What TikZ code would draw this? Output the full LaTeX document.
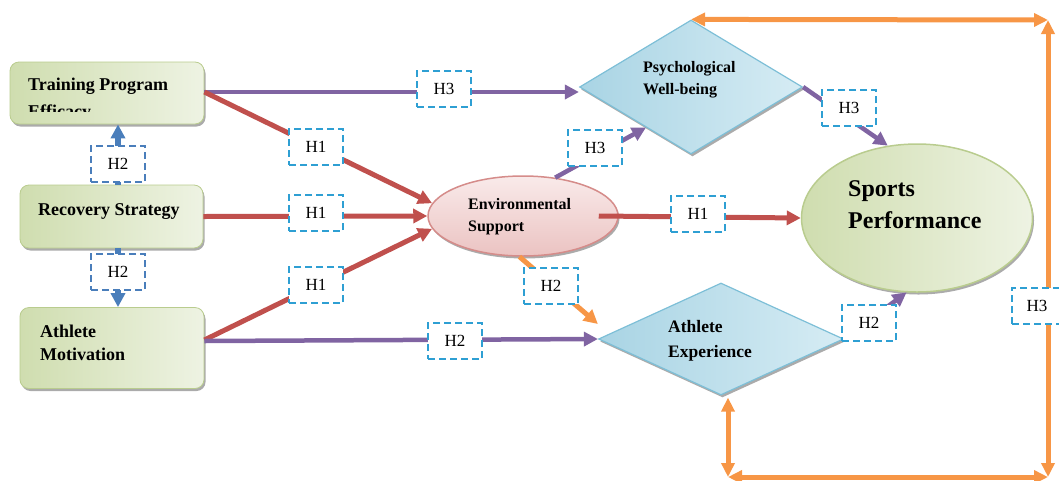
\documentclass[tikz,border=0pt]{standalone}
\usepackage{fontspec}
\setmainfont{Liberation Serif}
\usetikzlibrary{arrows.meta,shapes.geometric,shadows}
\definecolor{cRed}{HTML}{C0504D}
\definecolor{cPurple}{HTML}{8064A2}
\definecolor{cOrange}{HTML}{F79646}
\definecolor{cBlue}{HTML}{4A7EBB}
\definecolor{cCyan}{HTML}{2E9FD3}
\definecolor{gA}{HTML}{CFDDAF}
\definecolor{gB}{HTML}{EEF3E3}
\definecolor{gLine}{HTML}{B9CC8E}
\definecolor{pA}{HTML}{EBC3C2}
\definecolor{pB}{HTML}{F9EAEA}
\definecolor{pLine}{HTML}{D58C8A}
\definecolor{bA}{HTML}{A9D4E4}
\definecolor{bB}{HTML}{D6ECF4}
\definecolor{bLine}{HTML}{7DBFD7}
\tikzset{
  shad/.style={drop shadow={shadow xshift=1.5pt,shadow yshift=-2.5pt,fill=black!55,opacity=.6}},
  greenbox/.style={rectangle, rounded corners=9pt, draw=gLine, line width=.8pt,
    left color=gA, right color=gB, shad},
  envshape/.style={ellipse, draw=pLine, line width=1.5pt, top color=pB, bottom color=pA, shad},
  dia/.style={diamond, draw=bLine, line width=1.2pt, left color=bA, right color=bB, shad},
  sportshape/.style={ellipse, draw=gLine, line width=1.5pt, left color=gA, right color=gB, shad},
  lbl/.style={font=\bfseries\fontsize{18}{27}\selectfont, align=left, inner sep=0pt},
  slbl/.style={font=\bfseries\fontsize{16}{22}\selectfont, align=left, inner sep=0pt},
  hbox/.style={draw=cCyan, fill=white, line width=1.8pt, dash pattern=on 7pt off 4pt,
    minimum width=54pt, minimum height=36pt, inner sep=0pt, font=\fontsize{17}{20}\selectfont},
  hboxblue/.style={hbox, draw=cBlue},
  tip/.style={-{Triangle[length=14pt,width=14pt]}},
  dtip/.style={{Triangle[length=14pt,width=13pt]}-{Triangle[length=14pt,width=13pt]}},
  redc/.style={draw=cRed, line width=5pt, tip},
  purc/.style={draw=cPurple, line width=4.5pt, tip},
  orac/.style={draw=cOrange, line width=5pt},
  bluec/.style={draw=cBlue, line width=6pt, tip},
}
\begin{document}
\begin{tikzpicture}[x=1pt,y=-1pt]
\useasboundingbox (0,0) rectangle (1059,480);
% shapes
\node[greenbox, minimum width=194pt, minimum height=62pt] (Train) at (107,93) {};
\node[greenbox, minimum width=183pt, minimum height=63pt] (Rec) at (111.5,216.5) {};
\node[greenbox, minimum width=184pt, minimum height=81pt] (Mot) at (112,348) {};
\node[envshape, minimum width=190pt, minimum height=80pt] (Env) at (523,216) {};
\node[dia, minimum width=223pt, minimum height=134pt] (Psych) at (691,87) {};
\node[dia, minimum width=245pt, minimum height=112pt] (Ath) at (721,339) {};
\node[sportshape, minimum width=231pt, minimum height=148pt] (Sports) at (917,218) {};
% texts (anchor = baseline of the last line)
\begin{scope}
\clip (0,0) rectangle (220,111);
\node[lbl, anchor=base west] (tTrain) at (28,117) {Training Program\\Efficacy};
\end{scope}
\node[lbl, anchor=base west] (tRec) at (38,215) {Recovery Strategy};
\node[lbl, font=\bfseries\fontsize{18}{23}\selectfont, anchor=base west] (tMot) at (40,360) {Athlete\\Motivation};
\node[slbl, anchor=base west] (tEnv) at (468,231) {Environmental\\Support};
\node[slbl, anchor=base west] (tPsych) at (643,94) {Psychological\\Well-being};
\node[lbl, font=\bfseries\fontsize{17.5}{25}\selectfont, anchor=base west] (tAth) at (668,357) {Athlete\\Experience};
\node[lbl, font=\bfseries\fontsize{24}{32}\selectfont, anchor=base west] (tSports) at (848,228) {Sports\\Performance};
% coordinates for the orange loop
\coordinate (TR) at (1048,20);
\coordinate (BR) at (1048,477);
\coordinate (BL) at (728,477);
% connectors
\draw[bluec] ([xshift=6.5pt]Rec.north) -- ([xshift=11pt]Train.south);
\draw[bluec] ([xshift=6.5pt]Rec.south) -- ([xshift=6pt]Mot.north);
\draw[purc] ([yshift=1pt]Train.east) -- ([yshift=1pt]Train.east -| Psych.west);
\draw[redc] ([yshift=1pt]Train.east) -- (Env.172);
\draw[redc] (Rec.east) -- (Env.west);
\draw[redc] ([yshift=8pt]Mot.east) -- (Env.188);
\draw[purc] ([yshift=7pt]Mot.east) -- (Ath.west);
\draw[purc] (Env.50) -- (Psych.222);
\draw[redc] ([xshift=-20pt]Env.east) -- (Sports.west);
\draw[orac, tip] (Env.265) -- ([yshift=15pt]Ath.west);
\draw[purc] (Psych.east) -- (Sports.112);
\draw[purc] (Ath.east) -- (Sports.262);
\draw[orac, dtip] (Psych.north) -- (TR);
\draw[orac, dtip] (TR) -- (BR);
\draw[orac, dtip] (BL) -- (BR);
\draw[orac, dtip] ([yshift=-2pt]BL |- Ath.south) -- (BL);
% hypothesis labels
\node[hboxblue] (h2a) at (118,164) {H2};
\node[hboxblue] (h2b) at (118,272) {H2};
\node[hbox] (h3a) at (444,89) {H3};
\node[hbox] (h1a) at (316,147) {H1};
\node[hbox] (h1b) at (316,213) {H1};
\node[hbox] (h1c) at (316,285) {H1};
\node[hbox] (h2c) at (455,341) {H2};
\node[hbox] (h3b) at (595,148) {H3};
\node[hbox] (h1d) at (698,214) {H1};
\node[hbox] (h2d) at (551,286) {H2};
\node[hbox] (h3c) at (849,108) {H3};
\node[hbox] (h2e) at (869,323) {H2};
\node[hbox, minimum width=50pt] (h3d) at (1037,306) {H3};
\end{tikzpicture}
\end{document}
